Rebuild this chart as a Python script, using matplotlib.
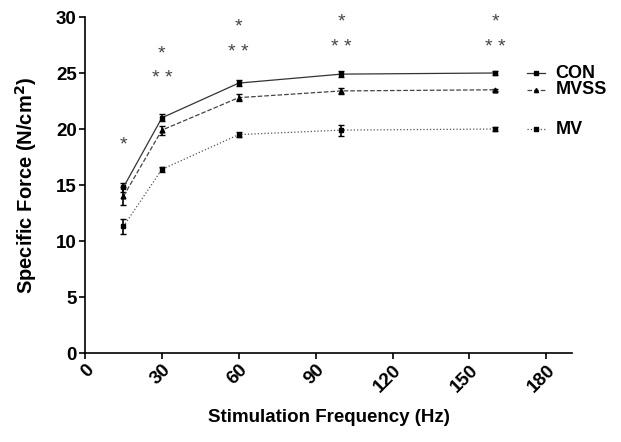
import numpy as np
import matplotlib
matplotlib.use("Agg")
import matplotlib.pyplot as plt

plt.rcParams['font.family'] = ['Liberation Sans', 'DejaVu Sans']

freq = [15, 30, 60, 100, 160]
groups = ["CON", "MVSS", "MV"]
con = [14.8, 21.0, 24.1, 24.9, 25.0]
con_err = [0.4, 0.3, 0.3, 0.3, 0.2]
mvss = [14.0, 19.9, 22.8, 23.4, 23.5]
mvss_err = [0.8, 0.4, 0.3, 0.3, 0.1]
mv = [11.3, 16.4, 19.5, 19.9, 20.0]
mv_err = [0.7, 0.2, 0.2, 0.5, 0.2]

# significance markers: (x, y, text)
star_x = [15, 30, 30, 60, 60, 100, 100, 160, 160]
star_y = [18.6, 26.7, 24.5, 29.1, 26.8, 29.6, 27.3, 29.6, 27.3]
star_txt = ["*", "*", "* *", "*", "* *", "*", "* *", "*", "* *"]

fig = plt.figure(figsize=(6.21, 4.42), dpi=100)
ax = fig.add_axes([85 / 621, 1 - 353 / 442, 487 / 621, 336 / 442])

series = [(con, con_err, "-", "s", "#333333"),
          (mvss, mvss_err, "--", "^", "#444444"),
          (mv, mv_err, ":", "s", "#555555")]
for (vals, err, ls, mk, col), name in zip(series, groups):
    ax.errorbar(freq, vals, yerr=err, color=col, linestyle=ls, linewidth=0.9,
                marker=mk, markersize=3.5, capsize=2.5, elinewidth=1.2,
                ecolor="black", mfc="black", mec="black", clip_on=False)
    # legend entry drawn next to the last point
    ax.plot([172.5, 179.5], [vals[-1]] * 2, color=col, linestyle=ls,
            linewidth=0.9, clip_on=False)
    ax.plot([176], [vals[-1]], marker=mk, markersize=3, color="black",
            clip_on=False)
    ax.text(183.5, vals[-1], name, fontsize=13, fontweight="bold",
            va="center", ha="left")

for x, y, t in zip(star_x, star_y, star_txt):
    ax.text(x, y, t, fontsize=14, ha="center", va="center", color="#444444")

ax.set_xlim(0, 190)
ax.set_ylim(0, 30)
ax.set_xticks([0, 30, 60, 90, 120, 150, 180])
ax.set_yticks([0, 5, 10, 15, 20, 25, 30])
ax.spines['top'].set_visible(False)
ax.spines['right'].set_visible(False)
for s in ['left', 'bottom']:
    ax.spines[s].set_linewidth(1.2)
ax.tick_params(labelsize=13.5, width=1.2, length=4, pad=2)
for lab in ax.get_xticklabels():
    lab.set_rotation(45)
    lab.set_fontweight("bold")
    lab.set_ha("right")
    lab.set_rotation_mode("anchor")
for lab in ax.get_yticklabels():
    lab.set_fontweight("bold")
ax.set_xlabel("Stimulation Frequency (Hz)", fontsize=13.5, fontweight="bold",
              labelpad=10)
ax.set_ylabel("Specific Force (N/cm$^\\mathbf{2}$)", fontsize=14.5,
              fontweight="bold", labelpad=12)

fig.savefig("out.png", dpi=100)
